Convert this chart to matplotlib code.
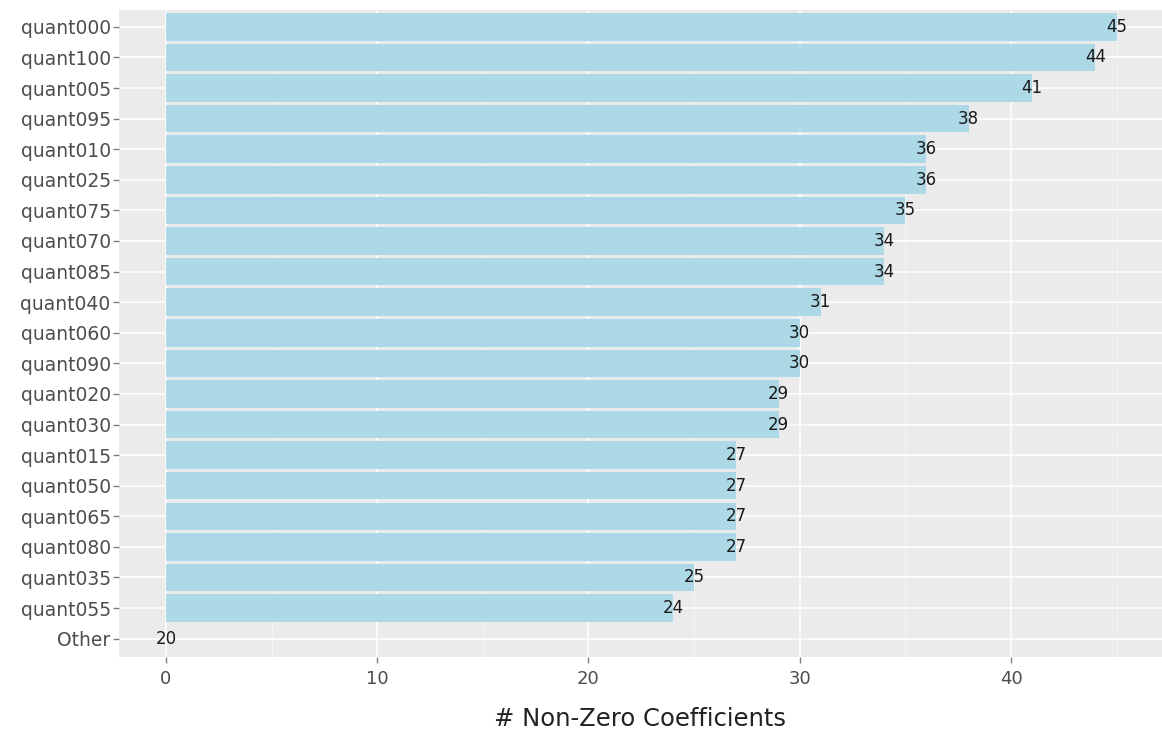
import matplotlib.pyplot as plt
from matplotlib.ticker import MultipleLocator

# data, top to bottom
names = ['quant000', 'quant100', 'quant005', 'quant095', 'quant010', 'quant025',
         'quant075', 'quant070', 'quant085', 'quant040', 'quant060', 'quant090',
         'quant020', 'quant030', 'quant015', 'quant050', 'quant065', 'quant080',
         'quant035', 'quant055', 'Other']
counts = [45, 44, 41, 38, 36, 36, 35, 34, 34, 31, 30, 30, 29, 29, 27, 27, 27, 27,
          25, 24, 0]
labels = ['45', '44', '41', '38', '36', '36', '35', '34', '34', '31', '30', '30',
          '29', '29', '27', '27', '27', '27', '25', '24', '20']

fig = plt.figure(figsize=(11.62, 7.33), dpi=100)
ax = fig.add_axes([119 / 1162, 1 - 657 / 733, 1 - 119 / 1162, (657 - 10) / 733])
ax.set_facecolor('#EBEBEB')

ypos = list(range(len(names)))
ax.barh(ypos, counts, height=0.9, color='#ADD8E6', edgecolor='none', zorder=3)
for y, c, lab in zip(ypos, counts, labels):
    ax.text(c, y, lab, ha='center', va='center', fontsize=12, color='#1a1a1a', zorder=4)

ax.set_xlim(-2.22, 47.15)
ax.set_ylim(len(names) - 0.4, -0.55)
ax.set_yticks(ypos)
ax.set_yticklabels(names)
ax.xaxis.set_major_locator(MultipleLocator(10))
ax.xaxis.set_minor_locator(MultipleLocator(5))

ax.grid(which='major', color='white', linewidth=1.1, zorder=0)
ax.grid(which='minor', axis='x', color='#F5F5F5', linewidth=0.6, zorder=0)
for s in ax.spines.values():
    s.set_visible(False)

ax.tick_params(axis='both', which='major', colors='#7f7f7f', labelcolor='#4d4d4d',
               labelsize=13.5, length=4, width=1)
ax.tick_params(axis='x', which='minor', length=0)
ax.tick_params(axis='x', labelsize=13, pad=5)
ax.tick_params(axis='y', pad=2)
ax.set_xlabel('# Non-Zero Coefficients', fontsize=17.5, color='#222222', labelpad=14)

fig.savefig('out.png', dpi=100)
